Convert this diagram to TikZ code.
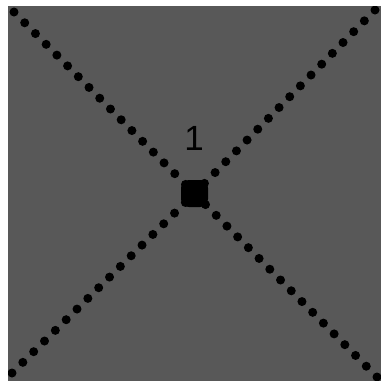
\documentclass[tikz,border=0pt]{standalone}
\usepackage{fontspec}
\setmainfont{Liberation Sans}
\definecolor{bggray}{RGB}{88,88,88}
\tikzset{
  dotline/.style={line width=9pt, line cap=round, dash pattern=on 0pt off 15.2pt, black},
  hub/.style={fill=black, rounded corners=8pt, minimum width=27pt, minimum height=27pt, inner sep=0pt},
  lbl/.style={font=\fontsize{35}{35}\selectfont, text=black, inner sep=0pt}
}
\begin{document}
\begin{tikzpicture}[x=1pt,y=-1pt]
\useasboundingbox (0,0) rectangle (381,381);
\fill[bggray] (8,6) rectangle (381,381);
\coordinate (tl) at (14,12);
\coordinate (tr) at (375,10);
\coordinate (bl) at (12,373);
\coordinate (br) at (377,377);
\coordinate (c) at (194.5,193.5);
\begin{scope}
\clip (8,6) rectangle (381,381);
\draw[dotline] (tl) -- (c);
\draw[dotline] (tr) -- (c);
\draw[dotline] (bl) -- (c);
\draw[dotline] (br) -- (c);
\end{scope}
\node[hub] (hubnode) at (c) {};
\node[lbl] (one) at (194,138) {1};
\end{tikzpicture}
\end{document}
